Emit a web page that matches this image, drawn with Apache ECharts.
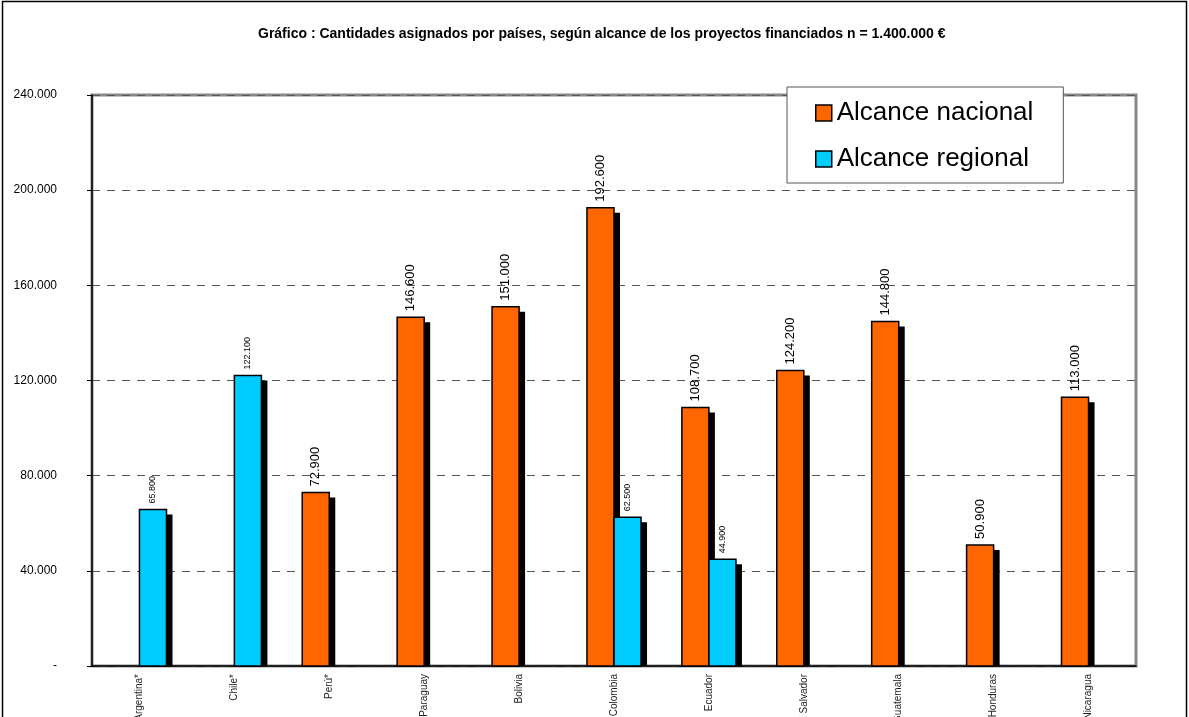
<!DOCTYPE html>
<html>
<head>
<meta charset="utf-8">
<script src="https://cdn.jsdelivr.net/npm/echarts@6/dist/echarts.min.js"></script>
<style>
html, body { margin: 0; padding: 0; background: #fff; }
#chart { width: 1189px; height: 717px; }
</style>
</head>
<body>
<div id="chart"></div>
<script>
// datos
var paises = ['Argentina*', 'Chile*', 'Perú*', 'Paraguay', 'Bolivia', 'Colombia', 'Ecuador', 'El Salvador', 'Guatemala', 'Honduras', 'Nicaragua'];
var nacional = [null, null, 72900, 146600, 151000, 192600, 108700, 124200, 144800, 50900, 113000];
var regional = [65800, 122100, null, null, null, 62500, 44900, null, null, null, null];
var yTicks = [0, 40000, 80000, 120000, 160000, 200000, 240000];

var fmt = function (v) {
	if (v === 0) return '-';
	return String(v).replace(/\B(?=(\d{3})+(?!\d))/g, '.');
};

// barra con sombra negra recortada en la base, a la izquierda (-1) o derecha (1) del centro
function barra(lado, color, fontSize) {
	return function (params, api) {
		var v = api.value(1);
		if (v == null || isNaN(v)) return;
		var top = api.coord([api.value(0), v]);
		var base = api.coord([api.value(0), 0]);
		var w = api.size([1, 0])[0] * 0.285;
		var x = lado < 0 ? top[0] - w : top[0];
		var h = base[1] - top[1];
		return {
			type : 'group',
			children : [ {
				type : 'rect',
				shape : { x : x + 6, y : top[1] + 5, width : w, height : h - 5 },
				style : { fill : '#000' }
			}, {
				type : 'rect',
				shape : { x : x, y : top[1], width : w, height : h },
				style : { fill : color, stroke : '#000', lineWidth : 1.5 }
			}, {
				type : 'text',
				x : x + w / 2,
				y : top[1] - 6,
				rotation : Math.PI / 2,
				style : {
					text : fmt(v),
					fontFamily : 'Liberation Sans',
					fontSize : fontSize,
					fill : '#000',
					align : 'left',
					verticalAlign : 'middle'
				}
			} ]
		};
	};
}

function datos(arr) {
	var d = [];
	for (var i = 0; i < arr.length; i++) {
		d.push([i, arr[i] == null ? '-' : arr[i]]);
	}
	return d;
}

var chart = echarts.init(document.getElementById('chart'));
chart.setOption({
	animation : false,
	backgroundColor : '#fff',
	textStyle : { fontFamily : 'Liberation Sans' },
	title : {
		text : 'Gráfico : Cantidades asignados por países, según alcance de los proyectos financiados n = 1.400.000 €',
		left : 258,
		top : 27,
		padding : 0,
		textStyle : { fontSize : 14, fontWeight : 'bold', color : '#000' }
	},
	graphic : [ {
		type : 'rect',
		shape : { x : 2.5, y : 1.5, width : 1184, height : 730 },
		style : { fill : 'none', stroke : '#000', lineWidth : 1.5 },
		z : -1
	} ],
	legend : {
		orient : 'vertical',
		left : 787,
		top : 87,
		padding : [ 13, 30, 11, 28 ],
		itemGap : 20,
		itemWidth : 16,
		itemHeight : 16,
		backgroundColor : '#fff',
		borderColor : '#555',
		borderWidth : 1,
		textStyle : { fontSize : 26, color : '#000' },
		data : [ {
			name : 'Alcance nacional',
			icon : 'rect',
			itemStyle : { color : '#ff6600', borderColor : '#000', borderWidth : 1.5 }
		}, {
			name : 'Alcance regional',
			icon : 'rect',
			itemStyle : { color : '#00ccff', borderColor : '#000', borderWidth : 1.5 }
		} ],
		z : 10
	},
	grid : {
		left : 92,
		right : 53,
		top : 95,
		bottom : 51,
		outerBoundsMode : 'none',
		containLabel : false,
		show : true,
		borderColor : '#888',
		borderWidth : 3
	},
	xAxis : {
		type : 'category',
		data : paises,
		axisLine : { lineStyle : { color : '#000', width : 1.5 } },
		axisTick : { length : 4, lineStyle : { color : '#000' } },
		axisLabel : {
			rotate : 90,
			interval : 0,
			fontSize : 10,
			color : '#222',
			margin : 8
		}
	},
	yAxis : {
		type : 'value',
		min : yTicks[0],
		max : yTicks[yTicks.length - 1],
		interval : 40000,
		axisLine : { show : true, lineStyle : { color : '#000', width : 1.5 } },
		axisTick : { show : true, length : 5, lineStyle : { color : '#000' } },
		axisLabel : { fontSize : 12, color : '#000', margin : 35, formatter : fmt },
		splitLine : { lineStyle : { color : '#555', type : [ 8, 7 ], width : 1 } }
	},
	series : [ {
		name : 'Alcance nacional',
		type : 'custom',
		color : '#ff6600',
		renderItem : barra(-1, '#ff6600', 13),
		encode : { x : 0, y : 1 },
		data : datos(nacional),
		z : 3
	}, {
		name : 'Alcance regional',
		type : 'custom',
		color : '#00ccff',
		renderItem : barra(1, '#00ccff', 9),
		encode : { x : 0, y : 1 },
		data : datos(regional),
		z : 3
	} ]
});
</script>
</body>
</html>
